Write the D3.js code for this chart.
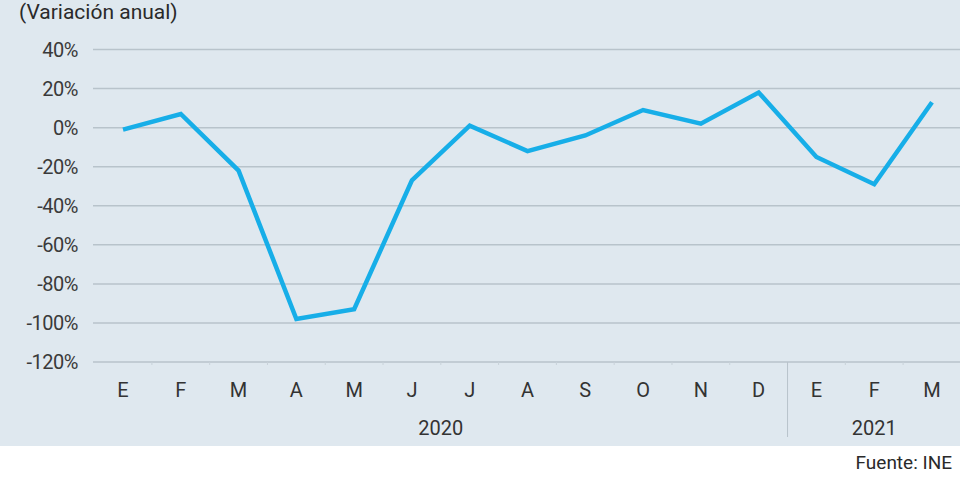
<!DOCTYPE html>
<html><head><meta charset="utf-8">
<script src="https://cdn.jsdelivr.net/npm/d3@7"></script>
<style>html,body{margin:0;padding:0;background:#fff;}svg{display:block;}</style>
</head><body>
<svg id="c" width="960" height="477"></svg>
<script>
const months = ["E","F","M","A","M","J","J","A","S","O","N","D","E","F","M"];
const years = [{label:"2020", from:0, to:11},{label:"2021", from:12, to:14}];
const values = [-1, 7, -22, -98, -93, -27, 1, -12, -4, 9, 2, 18, -15, -29, 13];
const yTicks = [40, 20, 0, -20, -40, -60, -80, -100, -120];
const title = "(Variación anual)";
const source = "Fuente: INE";

const svg = d3.select("#c");
const W = 960, H = 477;
const font = "Roboto, 'Liberation Sans', sans-serif";
svg.append("rect").attr("x",0).attr("y",0).attr("width",W).attr("height",446).attr("fill","#dfe8ef");

const x = d3.scaleLinear().domain([0, 14]).range([123, 932]);
const y = d3.scaleLinear().domain([-120, 40]).range([362, 49.5]);

// gridlines
svg.append("g").selectAll("line").data(yTicks).join("line")
  .attr("x1", 93).attr("x2", W)
  .attr("y1", d => y(d)).attr("y2", d => y(d))
  .attr("stroke", "#b8c3cb").attr("stroke-width", 1.5);

// y labels
svg.append("g").selectAll("text").data(yTicks).join("text")
  .attr("x", 78).attr("y", d => y(d)).attr("dy", "0.35em")
  .attr("text-anchor", "end").attr("font-family", font).attr("font-size", 20)
  .attr("letter-spacing", -0.5)
  .attr("fill", "#3a3a3a").text(d => d + "%");

// small ticks between months
const step = x(1) - x(0);
svg.append("g").selectAll("line").data(d3.range(0, 15)).join("line")
  .attr("x1", d => x(d) + step/2).attr("x2", d => x(d) + step/2)
  .attr("y1", y(-120)).attr("y2", y(-120) + 3)
  .attr("stroke", "#c8d2d9").attr("stroke-width", 1);

// month labels
svg.append("g").selectAll("text").data(months).join("text")
  .attr("x", (d, i) => x(i)).attr("y", 397)
  .attr("text-anchor", "middle").attr("font-family", font).attr("font-size", 20)
  .attr("fill", "#333").text(d => d);

// year labels
svg.append("g").selectAll("text").data(years).join("text")
  .attr("x", d => (x(d.from) + x(d.to)) / 2).attr("y", 435)
  .attr("text-anchor", "middle").attr("font-family", font).attr("font-size", 20)
  .attr("fill", "#333").text(d => d.label);

// year separator
svg.append("line")
  .attr("x1", (x(11) + x(12)) / 2).attr("x2", (x(11) + x(12)) / 2)
  .attr("y1", y(-120)).attr("y2", 437)
  .attr("stroke", "#b8c3cb").attr("stroke-width", 1);

// line
const line = d3.line().x((d, i) => x(i)).y(d => y(d));
svg.append("path").datum(values).attr("d", line)
  .attr("fill", "none").attr("stroke", "#17aee8").attr("stroke-width", 4.5)
  .attr("stroke-linejoin", "miter");

// title
svg.append("text").attr("x", 19).attr("y", 19).attr("font-family", font)
  .attr("font-size", 21).attr("fill", "#2a2a2a").text(title);

// source
svg.append("text").attr("x", 952).attr("y", 469).attr("text-anchor", "end")
  .attr("font-family", font)
  .attr("font-size", 19).attr("fill", "#2a2a2a").text(source);
</script>
</body></html>
